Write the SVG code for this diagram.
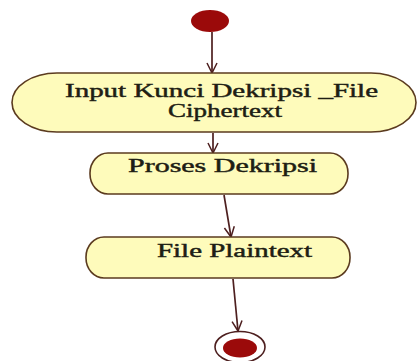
<svg xmlns="http://www.w3.org/2000/svg" width="417" height="361" viewBox="0 0 417 361">
  <style>
    .act { fill: #fefbbb; stroke: #5b3b1f; stroke-width: 1.6; }
    .lbl { font-family: "Liberation Serif", "Times New Roman", serif; font-size: 19px; fill: #1e1e14; stroke: #1e1e14; stroke-width: 0.45; }
    .flow { fill: none; stroke: #4d1f1f; stroke-width: 1.7; marker-end: url(#open); }
  </style>
  <defs>
    <marker id="open" viewBox="0 0 12 12" refX="11" refY="6" markerWidth="12" markerHeight="12" markerUnits="userSpaceOnUse" orient="auto">
      <path d="M1,1 L11,6 L1,11" fill="none" stroke="#4d1f1f" stroke-width="1.5"/>
    </marker>
  </defs>
  <rect width="417" height="361" fill="#ffffff"/>

  <g id="connectors">
    <line class="flow" x1="212" y1="32" x2="212" y2="73"/>
    <line class="flow" x1="213" y1="133" x2="213" y2="153"/>
    <line class="flow" x1="224" y1="195" x2="231" y2="237"/>
    <line class="flow" x1="233" y1="279" x2="238" y2="331"/>
  </g>

  <g id="start">
    <ellipse cx="210" cy="21" rx="19" ry="11" fill="#9b0a0a"/>
  </g>

  <g id="input-kunci">
    <rect class="act" x="12" y="73" width="404" height="59" rx="45" ry="29.5"/>
    <text class="lbl" x="65" y="97" textLength="313" lengthAdjust="spacingAndGlyphs">Input Kunci Dekripsi _File</text>
    <text class="lbl" x="168" y="117" textLength="114" lengthAdjust="spacingAndGlyphs">Ciphertext</text>
  </g>

  <g id="proses-dekripsi">
    <rect class="act" x="90" y="153" width="258" height="41" rx="18" ry="20"/>
    <text class="lbl" x="128" y="172" textLength="189" lengthAdjust="spacingAndGlyphs">Proses Dekripsi</text>
  </g>

  <g id="file-plaintext">
    <rect class="act" x="86" y="237" width="264" height="41" rx="18" ry="20"/>
    <text class="lbl" x="157" y="257" textLength="155" lengthAdjust="spacingAndGlyphs">File Plaintext</text>
  </g>

  <g id="end">
    <ellipse cx="240" cy="347" rx="25" ry="15.5" fill="#ffffff" stroke="#4d1f1f" stroke-width="1.6"/>
    <ellipse cx="240" cy="348" rx="17" ry="9.5" fill="#9b0a0a"/>
  </g>
</svg>
